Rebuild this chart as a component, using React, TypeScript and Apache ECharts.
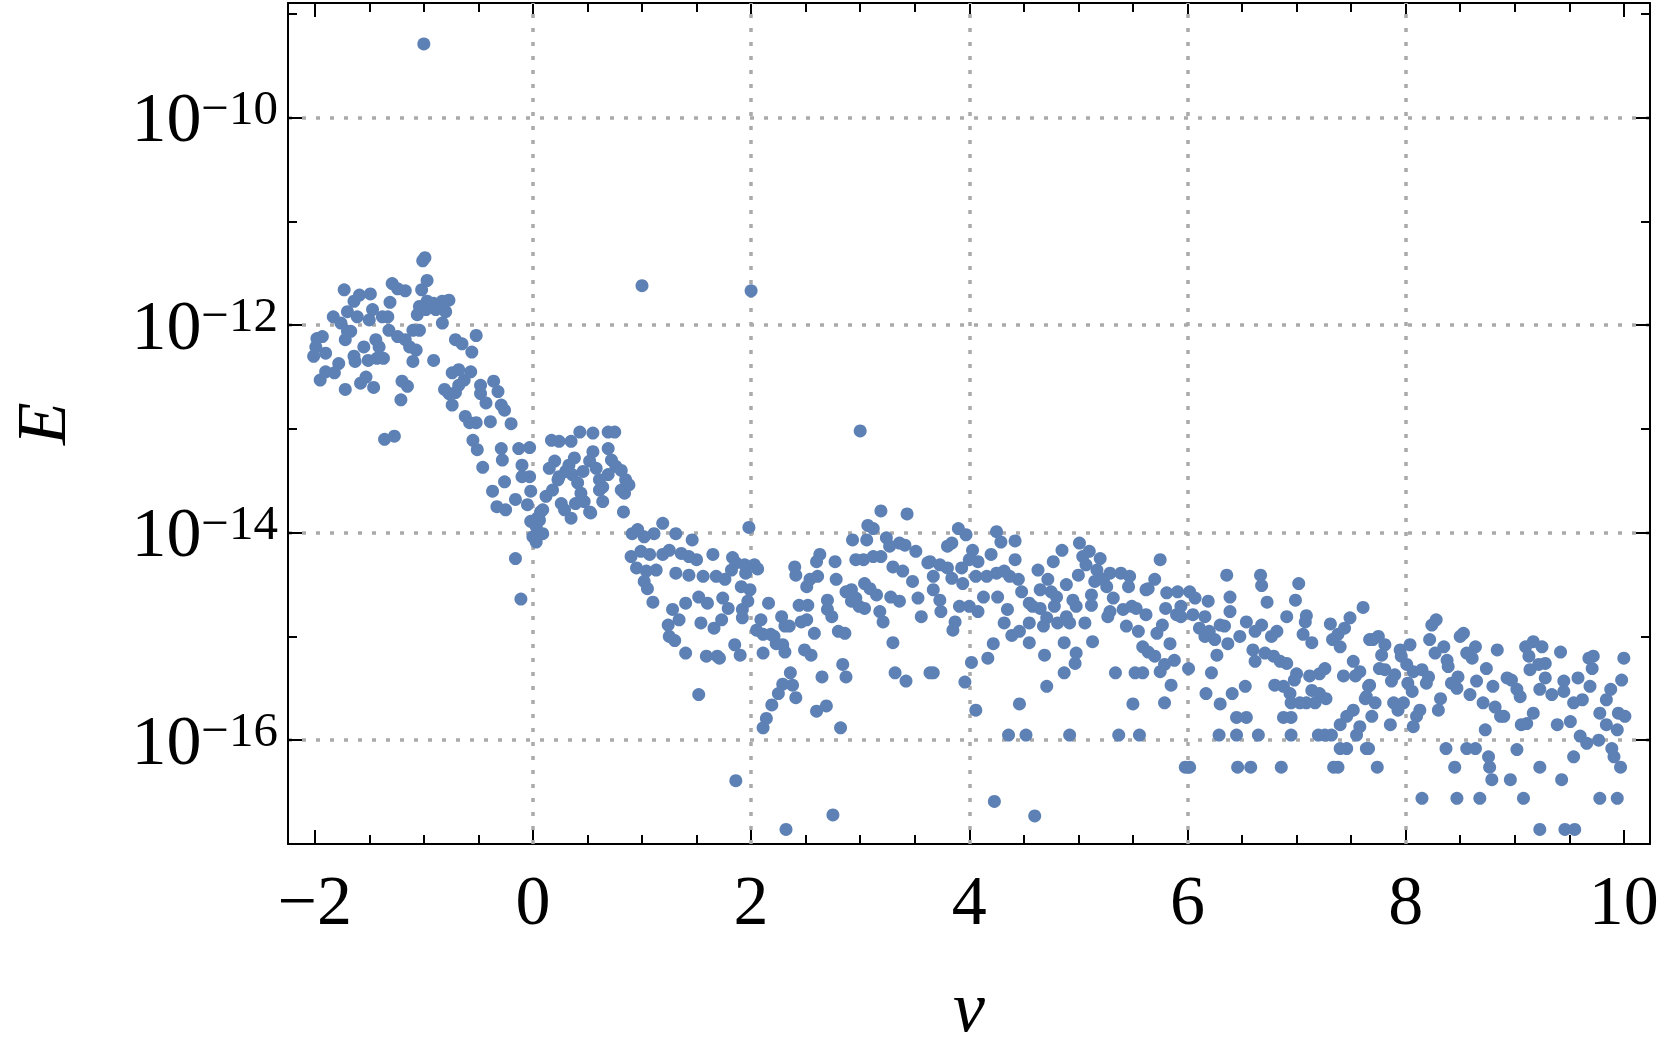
import React, { useEffect, useRef } from "react";
import * as echarts from "echarts";

// Axis ranges (nu on x, log10 of E on y)
const X_MIN = -2.245;
const X_MAX = 10.24;
const LOG_MIN = -17;
const LOG_MAX = -8.896;
const X_GRID = [0, 2, 4, 6, 8];
const FONT = "'Liberation Serif', 'Times New Roman', serif";
const DOT_COLOR = "#5E81B5";
const GRID_COLOR = "#aaaaaa";

// Points: [nu, log10(E)]
const pointsLeft: [number, number][] = [
  [-1.01, -11.38], [-0.99, -11.35], [-1.73, -11.66], [-1.59, -11.71], [-1.49, -11.7], [-1.29, -11.6], [-1.24, -11.65],
  [-1.17, -11.67], [-0.97, -11.57], [-1.02, -11.66], [-1.64, -11.77], [-1.7, -11.87], [-1.61, -11.92], [-1.5, -11.95],
  [-1.47, -11.85], [-1.38, -11.92], [-1.33, -11.92], [-1.31, -11.78], [-1.83, -11.92], [-1.76, -11.98], [-1.7, -12.06],
  [-1.93, -12.11], [-1.98, -12.13], [-1.99, -12.21], [-2.01, -12.3], [-1.9, -12.27], [-1.95, -12.53], [-1.9, -12.45],
  [-1.82, -12.46], [-1.78, -12.37], [-1.72, -12.14], [-1.67, -12.06], [-1.64, -12.3], [-1.63, -12.35], [-1.72, -12.62],
  [-1.58, -12.56], [-1.53, -12.5], [-1.46, -12.6], [-1.55, -12.21], [-1.51, -12.34], [-1.44, -12.14], [-1.41, -12.21],
  [-1.37, -12.32], [-1.43, -12.32], [-1.32, -12.05], [-1.24, -12.11], [-1.17, -12.14], [-1.1, -12.05], [-1.04, -12.05],
  [-1.13, -12.21], [-1.07, -12.24], [-1.1, -12.35], [-1.2, -12.54], [-1.15, -12.59], [-1.21, -12.72], [-1.36, -13.1],
  [-1.27, -13.07], [-1.04, -11.82], [-0.97, -11.77], [-0.91, -11.79], [-0.83, -11.77], [-0.77, -11.76], [-0.8, -11.87],
  [-0.89, -11.85], [-0.83, -11.98], [-1.06, -11.9], [-0.98, -11.85], [-0.91, -12.34], [-0.71, -12.14], [-0.65, -12.18],
  [-0.52, -12.1], [-0.56, -12.26], [-0.74, -12.46], [-0.68, -12.43], [-0.57, -12.45], [-0.63, -12.53], [-0.68, -12.58],
  [-0.81, -12.62], [-0.77, -12.66], [-0.71, -12.65], [-0.74, -12.77], [-0.62, -12.88], [-0.58, -12.94], [-0.52, -12.94],
  [-0.48, -12.58], [-0.48, -12.66], [-0.43, -12.75], [-0.39, -12.93], [-0.36, -12.54], [-0.32, -12.64], [-0.29, -12.77],
  [-0.26, -12.82], [-0.55, -13.11], [-0.51, -13.2], [-0.46, -13.37], [-0.37, -13.6], [-0.33, -13.75], [-0.25, -13.78],
  [-0.29, -13.19], [-0.28, -13.3], [-0.26, -13.51],
];

const pointsMidLeft: [number, number][] = [
  [-0.2, -12.95], [-0.16, -13.68], [-0.05, -13.73], [-0.02, -13.6], [-0.1, -13.35], [-0.1, -13.46], [-0.03, -13.46],
  [-0.13, -13.19], [-0.03, -13.18], [-0.16, -14.25], [-0.11, -14.64], [-0.02, -13.89], [0.03, -13.94], [0.03, -14.09],
  [0.07, -13.8], [0.09, -14.01], [0.0, -14.04], [0.04, -13.86], [0.17, -13.11], [0.24, -13.12], [0.35, -13.12],
  [0.43, -13.03], [0.55, -13.04], [0.69, -13.03], [0.75, -13.03], [0.15, -13.38], [0.2, -13.31], [0.24, -13.46],
  [0.3, -13.41], [0.33, -13.35], [0.38, -13.28], [0.36, -13.44], [0.41, -13.52], [0.46, -13.41], [0.52, -13.31],
  [0.55, -13.22], [0.58, -13.38], [0.61, -13.49], [0.64, -13.56], [0.69, -13.19], [0.72, -13.3], [0.76, -13.36],
  [0.81, -13.4], [0.85, -13.49], [0.88, -13.54], [0.81, -13.59], [0.84, -13.62], [0.69, -13.44], [0.12, -13.65],
  [0.18, -13.59], [0.23, -13.49], [0.26, -13.72], [0.29, -13.78], [0.35, -13.86], [0.39, -13.72], [0.44, -13.62],
  [0.47, -13.7], [0.52, -13.8], [0.53, -13.81], [0.64, -13.7], [0.61, -13.59], [0.09, -13.78], [0.06, -13.88],
  [0.83, -13.8], [0.91, -14.01], [0.96, -13.97], [1.02, -14.04], [1.11, -14.01], [1.19, -13.91], [1.31, -14.01],
  [1.46, -14.07], [0.9, -14.23], [0.99, -14.18], [1.07, -14.21], [1.19, -14.21], [1.25, -14.17], [1.36, -14.2],
  [1.43, -14.23], [1.5, -14.26], [1.65, -14.21], [0.95, -14.34], [1.04, -14.37], [1.13, -14.36], [1.31, -14.39],
  [1.43, -14.41], [1.56, -14.42], [1.68, -14.42], [1.02, -14.47], [1.05, -14.54], [1.1, -14.67], [1.28, -14.74],
  [1.24, -14.89], [1.34, -14.84], [1.25, -15.0], [1.3, -15.04], [1.4, -14.68], [1.4, -15.16], [1.52, -14.62],
  [1.6, -14.68], [1.54, -14.87], [1.66, -14.92], [1.59, -15.19], [1.69, -15.19], [1.52, -15.56],
];

const pointsOutliers: [number, number][] = [
  [-1.0, -9.29], [1.0, -11.62], [2.0, -11.67], [3.0, -13.02],
];

const pointsMid: [number, number][] = [
  [1.98, -13.95], [1.83, -14.24], [1.86, -14.29], [1.82, -14.36], [1.76, -14.45], [1.74, -14.63], [1.79, -14.73],
  [1.73, -14.84], [1.85, -15.08], [1.9, -15.18], [1.71, -15.21], [1.92, -14.74], [1.92, -14.82], [1.97, -14.66],
  [1.99, -14.55], [1.95, -14.39], [1.94, -14.31], [2.03, -14.31], [2.06, -14.35], [1.91, -14.52], [2.16, -14.68],
  [2.09, -14.84], [2.05, -14.94], [2.11, -14.98], [2.18, -14.98], [2.23, -15.07], [2.28, -14.81], [2.31, -14.9],
  [2.35, -14.9], [2.29, -15.08], [2.31, -15.15], [2.11, -15.16], [2.21, -15.0], [2.36, -15.35], [2.38, -15.47],
  [2.29, -15.46], [2.25, -15.55], [2.19, -15.66], [2.14, -15.79], [2.11, -15.88], [2.41, -15.59], [1.86, -16.39],
  [2.32, -16.86], [2.75, -16.72], [2.4, -14.33], [2.41, -14.41], [2.51, -14.52], [2.54, -14.45], [2.44, -14.7],
  [2.52, -14.7], [2.46, -14.86], [2.51, -14.84], [2.58, -14.97], [2.49, -15.13], [2.55, -15.18], [2.6, -14.28],
  [2.63, -14.21], [2.61, -14.42], [2.7, -14.65], [2.7, -14.74], [2.74, -14.81], [2.77, -14.28], [2.78, -14.45],
  [2.8, -14.95], [2.86, -14.97], [2.65, -15.39], [2.6, -15.72], [2.69, -15.67], [2.84, -15.27], [2.87, -15.39],
  [2.82, -15.88], [2.87, -14.57], [2.92, -14.55], [2.96, -14.63], [2.93, -14.07], [2.96, -14.26], [3.03, -14.26],
  [3.06, -14.07], [3.07, -13.93], [3.12, -13.96], [3.19, -13.79], [3.43, -13.82], [3.24, -14.05], [3.27, -14.13],
  [3.36, -14.1], [3.41, -14.12], [3.51, -14.18], [3.62, -14.29], [3.12, -14.23], [3.19, -14.23], [3.3, -14.33],
  [3.39, -14.37], [3.48, -14.47], [3.04, -14.49], [3.09, -14.54], [3.15, -14.6], [2.92, -14.66], [2.99, -14.71],
  [3.04, -14.73], [3.18, -14.76], [3.21, -14.86], [3.28, -14.62], [3.36, -14.66], [3.53, -14.63], [3.56, -14.81],
  [3.3, -15.06], [3.32, -15.35], [3.42, -15.43], [3.64, -15.35],
];

const pointsMidRight: [number, number][] = [
  [3.9, -13.96], [3.97, -14.02], [3.84, -14.1], [3.8, -14.13], [4.03, -14.17], [4.2, -14.21], [4.25, -13.99],
  [4.29, -14.09], [4.42, -14.08], [4.42, -14.26], [4.0, -14.26], [4.08, -14.28], [3.93, -14.34], [3.64, -14.28],
  [3.73, -14.31], [3.8, -14.34], [3.67, -14.42], [3.84, -14.44], [3.94, -14.49], [4.06, -14.42], [4.16, -14.42],
  [4.25, -14.39], [4.32, -14.37], [4.37, -14.42], [4.45, -14.45], [4.13, -14.62], [4.26, -14.62], [3.67, -14.55],
  [3.73, -14.65], [3.74, -14.76], [3.91, -14.71], [4.0, -14.71], [4.08, -14.76], [3.87, -14.86], [3.85, -14.94],
  [4.35, -14.74], [4.32, -14.87], [4.39, -14.99], [4.46, -14.95], [4.22, -15.07], [4.17, -15.21], [4.02, -15.25],
  [3.96, -15.44], [3.67, -15.35], [4.06, -15.71], [4.46, -15.65], [4.23, -16.59], [4.6, -16.73], [4.48, -14.57],
  [4.55, -14.68], [4.63, -14.36], [4.77, -14.28], [4.85, -14.17], [4.72, -14.45], [4.65, -14.55], [4.58, -14.71],
  [4.65, -14.73], [4.75, -14.57], [4.8, -14.62], [4.89, -14.5], [4.78, -14.71], [4.55, -14.87], [4.68, -14.9],
  [4.71, -14.82], [4.81, -14.87], [4.89, -14.81], [4.92, -14.87], [4.95, -14.65], [4.98, -14.71], [4.55, -15.06],
  [4.69, -15.18], [4.87, -15.06], [4.98, -15.16], [4.97, -15.26], [4.87, -15.35], [4.71, -15.48], [4.36, -15.95],
  [4.52, -15.95], [4.92, -15.95], [5.37, -15.95], [5.56, -15.95], [5.5, -15.65], [5.34, -15.35], [5.52, -15.35],
  [5.59, -15.35], [5.01, -14.1], [5.04, -14.23], [5.1, -14.18], [5.2, -14.25], [5.0, -14.41], [5.07, -14.31],
  [5.17, -14.36], [5.15, -14.47], [5.23, -14.45], [5.29, -14.39], [5.39, -14.39], [5.47, -14.42], [5.26, -14.52],
  [5.46, -14.52], [5.12, -14.6], [5.06, -14.87], [5.13, -15.05], [5.12, -14.7], [5.32, -14.63], [5.29, -14.76],
  [5.27, -14.81], [5.41, -14.74], [5.49, -14.71], [5.53, -14.73], [5.44, -14.9], [5.55, -14.95], [5.59, -15.1],
  [5.62, -14.55], [5.62, -14.79],
];

const pointsRightA: [number, number][] = [
  [5.75, -14.26], [5.7, -14.45], [5.64, -14.54], [5.81, -14.58], [5.8, -14.73], [5.91, -14.57], [5.94, -14.71],
  [5.9, -14.79], [6.02, -14.57], [6.07, -14.63], [6.19, -14.66], [5.94, -14.81], [6.05, -14.79], [6.16, -14.81],
  [6.11, -14.92], [6.2, -14.95], [6.16, -15.0], [6.25, -15.03], [5.77, -14.89], [5.72, -14.97], [5.64, -15.15],
  [5.7, -15.19], [5.75, -15.34], [5.79, -15.27], [5.84, -15.07], [5.88, -15.23], [5.85, -15.47], [6.01, -15.31],
  [5.79, -15.64], [6.36, -14.41], [6.39, -14.62], [6.39, -14.76], [6.34, -14.9], [6.3, -14.89], [6.37, -15.07],
  [6.27, -15.18], [6.22, -15.35], [6.17, -15.55], [6.3, -15.65], [6.41, -15.55], [6.53, -15.48], [6.45, -15.78],
  [6.54, -15.78], [6.29, -15.95], [6.45, -15.95], [6.65, -15.95], [5.98, -16.26], [6.02, -16.26], [6.46, -16.26],
  [6.58, -16.26], [6.86, -16.26], [7.34, -16.26], [7.38, -16.26], [6.48, -15.0], [6.54, -14.86], [6.62, -14.95],
  [6.6, -15.13], [6.62, -15.24], [6.67, -14.41], [6.68, -14.51], [6.73, -14.67], [6.68, -14.89], [6.71, -15.16],
  [6.77, -15.0], [6.82, -14.95], [6.79, -15.19], [6.85, -15.24], [6.91, -15.26], [6.8, -15.47], [6.88, -15.48],
  [6.94, -15.55], [6.95, -15.64], [6.88, -15.78], [6.95, -15.78], [6.95, -15.95], [6.91, -14.81], [7.02, -14.49],
  [6.99, -14.65], [7.09, -14.8], [7.08, -14.86], [7.06, -14.98], [7.14, -15.06], [7.0, -15.36], [6.98, -15.42],
  [7.12, -15.38], [7.21, -15.36], [7.26, -15.31], [7.14, -15.52], [7.21, -15.55], [7.27, -15.6], [7.03, -15.64],
  [7.09, -15.64], [7.17, -15.64], [7.2, -15.95], [7.26, -15.95], [7.32, -15.95], [7.31, -14.88], [7.33, -15.03],
  [7.4, -15.1], [7.38, -14.98], [7.44, -14.92], [7.49, -14.82], [7.61, -14.72], [7.43, -15.38], [7.52, -15.24],
  [7.58, -15.34], [7.54, -15.38], [7.66, -15.48], [7.63, -15.6], [7.52, -15.71], [7.46, -15.77], [7.4, -15.85],
  [7.58, -15.87], [7.55, -15.95], [7.4, -16.08], [7.46, -16.08], [7.64, -16.08], [7.67, -15.03],
];

const pointsRightB: [number, number][] = [
  [7.75, -15.0], [7.7, -15.03], [7.81, -15.08], [7.78, -15.18], [7.76, -15.31], [7.81, -15.32], [7.87, -15.43],
  [7.9, -15.37], [7.67, -15.47], [7.64, -15.58], [7.72, -15.64], [7.69, -15.77], [7.66, -16.08], [7.74, -16.26],
  [7.86, -15.85], [7.89, -15.64], [7.93, -15.71], [7.98, -15.64], [7.95, -15.13], [7.96, -15.19], [8.04, -15.08],
  [8.01, -15.27], [8.02, -15.45], [8.06, -15.53], [8.07, -15.87], [8.1, -15.77], [8.13, -15.71], [8.15, -16.56],
  [8.07, -15.34], [8.15, -15.32], [8.19, -15.45], [8.21, -15.39], [8.24, -14.89], [8.28, -14.84], [8.22, -15.03],
  [8.27, -15.16], [8.32, -15.6], [8.3, -15.71], [8.35, -15.1], [8.38, -15.23], [8.39, -15.29], [8.42, -15.45],
  [8.47, -15.5], [8.48, -15.39], [8.5, -15.0], [8.53, -14.97], [8.56, -15.16], [8.61, -15.21], [8.64, -15.1],
  [8.59, -15.56], [8.65, -15.43], [8.74, -15.31], [8.71, -15.64], [8.73, -15.9], [8.76, -16.16], [8.77, -16.26],
  [8.79, -16.38], [8.45, -16.26], [8.37, -16.08], [8.56, -16.08], [8.64, -16.08], [8.47, -16.56], [8.68, -16.56],
  [8.84, -15.13], [8.8, -15.48], [8.82, -15.68], [8.87, -15.77], [8.9, -15.77], [8.93, -15.4], [8.97, -15.42],
  [9.02, -15.51], [9.05, -15.58], [8.96, -16.38], [9.08, -16.56], [9.1, -15.1], [9.17, -15.05], [9.13, -15.19],
  [9.14, -15.32], [9.25, -15.1], [9.22, -15.27], [9.28, -15.26], [9.23, -15.51], [9.17, -15.74], [9.06, -15.85],
  [9.28, -15.4], [9.34, -15.56], [9.42, -15.15], [9.45, -15.43], [9.39, -15.85], [9.51, -15.82], [9.54, -15.64],
  [9.58, -15.4], [9.62, -15.61], [9.68, -15.21], [9.72, -15.19], [9.71, -15.31], [9.69, -15.48], [9.6, -15.96],
  [9.66, -16.03], [9.77, -16.0], [9.78, -15.74], [9.84, -15.61], [9.88, -15.51], [9.84, -15.85], [9.94, -15.9],
  [9.89, -16.08], [9.91, -16.16], [9.97, -16.26], [9.98, -15.42], [10.0, -15.21], [9.95, -15.74], [10.01, -15.77],
  [9.54, -16.16], [9.43, -16.38], [9.23, -16.26], [9.23, -16.86], [9.46, -16.86], [9.55, -16.86], [9.78, -16.56],
  [9.94, -16.56], [9.02, -16.09], [9.11, -15.84], [9.45, -15.53],
];

const allPoints: [number, number][] = [
  ...pointsLeft, ...pointsMidLeft, ...pointsOutliers, ...pointsMid, ...pointsMidRight, ...pointsRightA, ...pointsRightB,
];

const minusSign = (v: number) => (v < 0 ? "\u2212" + Math.abs(v) : String(v));

export default function App() {
  const ref = useRef<HTMLDivElement>(null);

  useEffect(() => {
    if (!ref.current) return;
    const chart = echarts.init(ref.current, undefined, { renderer: "svg" });

    const black = "#000";
    const frameLine = { show: true, onZero: false, lineStyle: { color: black, width: 2 } };
    const noLine = { show: false, onZero: false };
    const majorTick = { show: true, inside: true, length: 14, lineStyle: { color: black, width: 2 } };
    const minorTickX = { show: true, splitNumber: 4, length: 9, lineStyle: { color: black, width: 2 } };
    const minorTickY = { show: true, inside: true, length: 9, lineStyle: { color: black, width: 2 } };

    const xCommon = {
      type: "value" as const,
      min: X_MIN,
      max: X_MAX,
      minInterval: 2,
      maxInterval: 2,
      axisLine: frameLine,
      axisTick: majorTick,
      minorTick: minorTickX,
      splitLine: { show: false },
    };

    chart.setOption({
      animation: false,
      backgroundColor: "#fff",
      grid: { left: 288, right: 11, top: 3, bottom: 204, containLabel: false, outerBoundsMode: "none" },
      xAxis: [
        {
          ...xCommon,
          position: "bottom",
          axisLabel: {
            show: true,
            margin: 21,
            color: black,
            fontSize: 70,
            fontFamily: FONT,
            showMinLabel: false,
            showMaxLabel: false,
            formatter: (v: number) => minusSign(v),
          },
          name: "\u03bd",
          nameLocation: "middle",
          nameGap: 127,
          nameTextStyle: { color: black, fontSize: 72, fontStyle: "italic", fontFamily: FONT, lineHeight: 72 },
        },
        {
          ...xCommon,
          position: "top",
          axisLabel: { show: false },
        },
      ],
      yAxis: [
        {
          type: "log",
          logBase: 10,
          position: "left",
          min: Math.pow(10, LOG_MIN),
          max: Math.pow(10, LOG_MAX),
          axisLine: frameLine,
          axisTick: minorTickY,
          axisLabel: { show: false },
          splitLine: { show: false },
          name: "E",
          nameLocation: "middle",
          nameRotate: 90,
          nameGap: 212,
          nameTextStyle: { color: black, fontSize: 70, fontStyle: "italic", fontFamily: FONT, lineHeight: 70 },
        },
        {
          type: "value",
          position: "left",
          min: LOG_MIN,
          max: LOG_MAX,
          minInterval: 2,
          maxInterval: 2,
          axisLine: noLine,
          axisTick: majorTick,
          axisLabel: {
            show: true,
            margin: 10,
            color: black,
            showMinLabel: false,
            showMaxLabel: false,
            formatter: (v: number) => `{b|10}{s|\u2212${Math.abs(v)}}`,
            rich: {
              b: { fontSize: 70, lineHeight: 70, fontFamily: FONT, color: black },
              s: { fontSize: 49, lineHeight: 49, fontFamily: FONT, color: black, verticalAlign: "top" },
            },
          },
          splitLine: {
            show: true,
            showMinLine: false,
            showMaxLine: false,
            lineStyle: { color: GRID_COLOR, width: 3.5, type: [4, 10] },
          },
        },
        {
          type: "log",
          logBase: 10,
          position: "right",
          min: Math.pow(10, LOG_MIN),
          max: Math.pow(10, LOG_MAX),
          axisLine: frameLine,
          axisTick: minorTickY,
          axisLabel: { show: false },
          splitLine: { show: false },
        },
        {
          type: "value",
          position: "right",
          min: LOG_MIN,
          max: LOG_MAX,
          minInterval: 2,
          maxInterval: 2,
          axisLine: noLine,
          axisTick: majorTick,
          axisLabel: { show: false },
          splitLine: { show: false },
        },
      ],
      series: [
        {
          type: "scatter",
          xAxisIndex: 0,
          yAxisIndex: 0,
          symbol: "circle",
          symbolSize: 13,
          itemStyle: { color: DOT_COLOR, opacity: 1 },
          data: allPoints.map(([nu, l]) => [nu, Math.pow(10, l)]),
          z: 3,
          markLine: {
            silent: true,
            symbol: ["none", "none"],
            z: 1,
            label: { show: false },
            lineStyle: { color: GRID_COLOR, width: 3.5, type: [4, 10] },
            data: X_GRID.map((v) => ({ xAxis: v })),
          },
        },
      ],
    });

    return () => chart.dispose();
  }, []);

  return (
    <div
      ref={ref}
      style={{ position: "absolute", left: 0, top: 0, width: 1661, height: 1048 }}
    />
  );
}
